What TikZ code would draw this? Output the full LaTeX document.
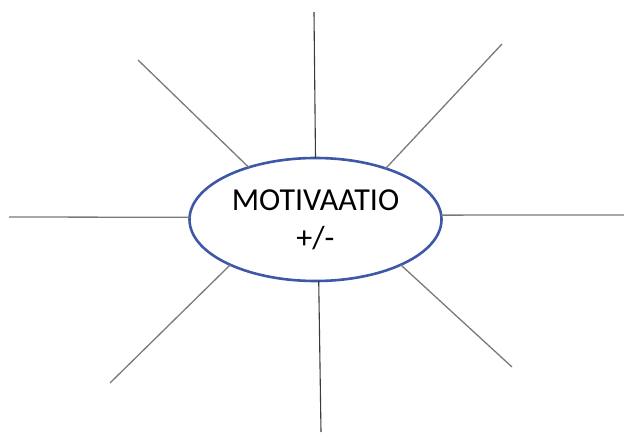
\documentclass[tikz,border=0pt]{standalone}
\usepackage{tikz}
\usepackage{xcolor}
\usepackage{fontspec}
\setmainfont{Carlito}
\usetikzlibrary{shapes.geometric, positioning}
\definecolor{MindBlue}{HTML}{3E57A6}
\definecolor{MindGray}{HTML}{7A7A7A}
\definecolor{MindDark}{HTML}{3A3A3A}
\tikzset{
    hub/.style={
        ellipse,
        draw=MindBlue,
        line width=2.6pt,
        fill=white,
        minimum width=252pt,
        minimum height=123pt,
        inner sep=0pt,
        outer sep=0pt,
        align=center,
        font=\fontsize{32}{38}\selectfont
    },
    spoke/.style={
        draw=MindGray,
        line width=1.3pt
    },
    darkspoke/.style={
        draw=MindDark,
        line width=1.1pt
    }
}
\begin{document}
\begin{tikzpicture}[x=1pt, y=1pt]
        \useasboundingbox (0,0) rectangle (624,432);

        % Spoke ends
        \coordinate (top) at (314,420);
        \coordinate (topright) at (502,388);
        \coordinate (right) at (624,217);
        \coordinate (botright) at (512,65);
        \coordinate (bot) at (321,0);
        \coordinate (botleft) at (110,49);
        \coordinate (left) at (9,215);
        \coordinate (topleft) at (138,372);

        % Centre ellipse
        \node[hub] (motiv) at (315.5,212.5) {MOTIVAATIO\\+/-};

        % Spokes
        \draw[darkspoke] (motiv.north) -- (top);
        \draw[spoke] (motiv.36) -- (topright);
        \draw[spoke] (motiv.2) -- (right);
        \draw[spoke] (motiv.-28.5) -- (botright);
        \draw[darkspoke] (motiv.-87) -- (bot);
        \draw[spoke] (motiv.208) -- (botleft);
        \draw[spoke] (motiv.179) -- (left);
        \draw[spoke] (motiv.142) -- (topleft);
    \end{tikzpicture}
\end{document}
